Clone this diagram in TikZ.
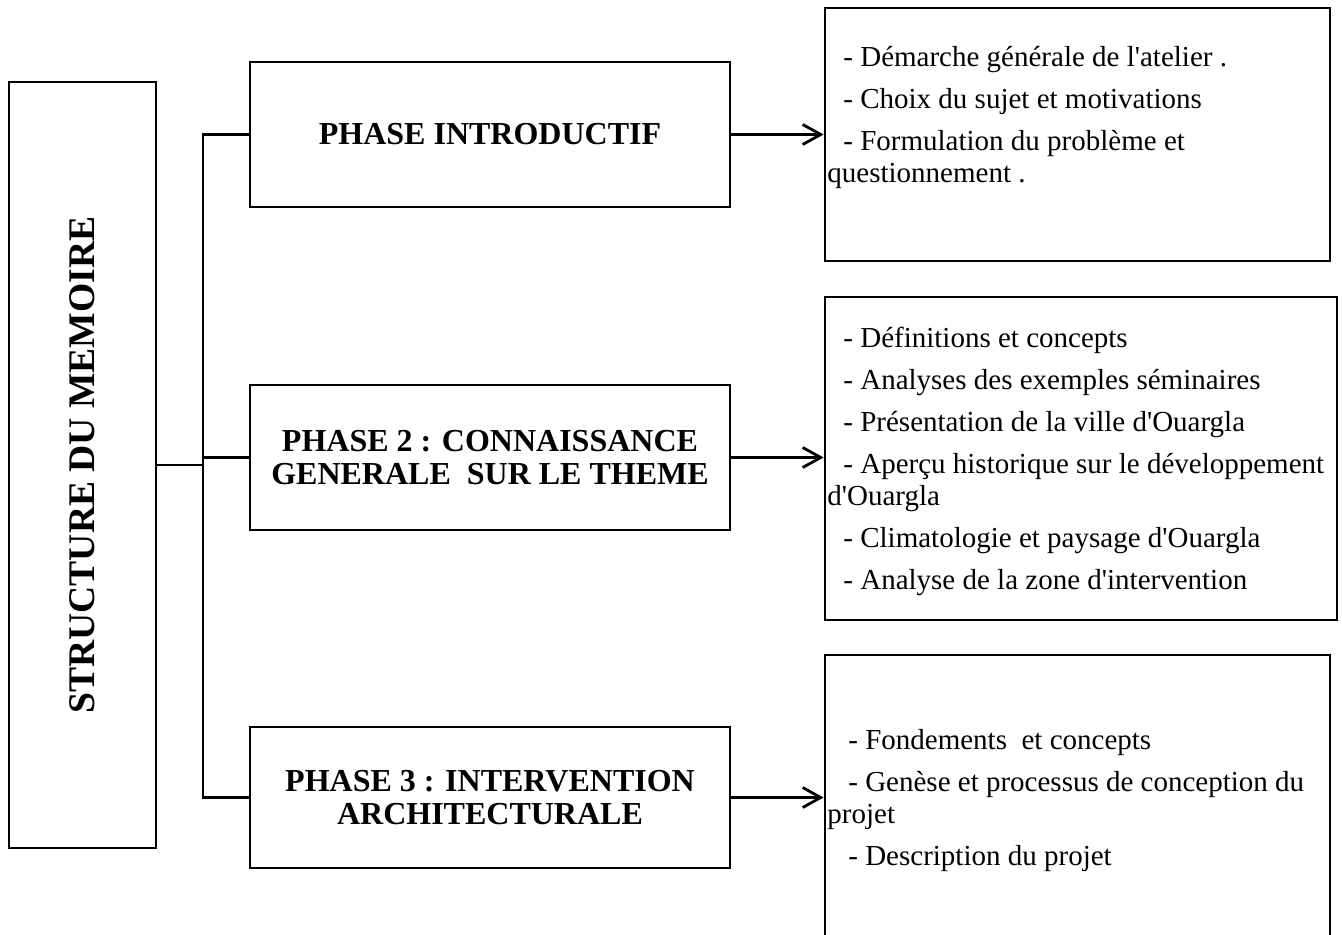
\documentclass[tikz,border=0pt]{standalone}
\usepackage{fontspec}
\setmainfont{Liberation Serif}[Ligatures=TeXOff]
\usetikzlibrary{arrows.meta,positioning}

\begin{document}
\begin{tikzpicture}[x=0.5pt,y=-0.5pt,
  box/.style={draw,line width=1.4pt,inner sep=0pt},
  phase/.style={box,minimum width=240pt,align=center,font=\fontsize{16}{16.5}\selectfont\bfseries},
  liste/.style={anchor=north west,inner sep=0pt,align=left,font=\fontsize{14.5}{15.75}\selectfont},
  lien/.style={line width=1.4pt},
  fleche/.style={line width=1.4pt,-{Straight Barb[length=9pt,width=10pt]}}]
\useasboundingbox (0,0) rectangle (1342,935);
\clip (0,0) rectangle (1342,935);
% structure du memoire
\node[box,minimum width=73.5pt,minimum height=383pt] (memo) at (82.5,465) {};
\node[rotate=90,font=\fontsize{18.8}{20}\selectfont\bfseries] (titre) at (memo) {STRUCTURE DU MEMOIRE};
% les trois phases
\node[phase,minimum height=72.5pt] (p1) at (490,134.5) {PHASE INTRODUCTIF};
\node[phase,minimum height=72.5pt] (p2) at (490,457.5) {PHASE 2 : CONNAISSANCE\\GENERALE\ \ SUR LE THEME};
\node[phase,minimum height=70.5pt] (p3) at (490,797.5) {PHASE 3 : INTERVENTION\\ARCHITECTURALE};
% contenus
\node[box,minimum width=252.5pt,minimum height=126.5pt] (r1) at (1077.5,134.5) {};
\node[box,minimum width=256pt,minimum height=161.5pt] (r2) at (1081,458.5) {};
\node[box,minimum width=252.5pt,minimum height=150pt] (r3) at (1077.5,805) {};
\node[liste] (t1) at (827,46) {\hspace*{8pt}- Démarche générale de l'atelier .\\[5.25pt]
\hspace*{8pt}- Choix du sujet et motivations\\[5.25pt]
\hspace*{8pt}- Formulation du problème et\\
questionnement .};
\node[liste] (t2) at (827,327) {\hspace*{8pt}- Définitions et concepts\\[5.25pt]
\hspace*{8pt}- Analyses des exemples séminaires\\[5.25pt]
\hspace*{8pt}- Présentation de la ville d'Ouargla\\[5.25pt]
\hspace*{8pt}- Aperçu historique sur le développement\\
d'Ouargla\\[5.25pt]
\hspace*{8pt}- Climatologie et paysage d'Ouargla\\[5.25pt]
\hspace*{8pt}- Analyse de la zone d'intervention};
\node[liste] (t3) at (827,729) {\hspace*{10.5pt}- Fondements\ \ et concepts\\[5.25pt]
\hspace*{10.5pt}- Genèse et processus de conception du\\
projet\\[5.25pt]
\hspace*{10.5pt}- Description du projet};
% liaisons
\coordinate (tronc) at (203,465);
\draw[lien] (memo.east) -- (tronc);
\draw[lien] (p1.west) -| (tronc |- p3.west) -- (p3.west);
\draw[lien] (p2.west -| tronc) -- (p2.west);
\draw[fleche] (p1.east) -- (p1.east -| r1.west);
\draw[fleche] (p2.east) -- (p2.east -| r2.west);
\draw[fleche] (p3.east) -- (p3.east -| r3.west);
\end{tikzpicture}
\end{document}
